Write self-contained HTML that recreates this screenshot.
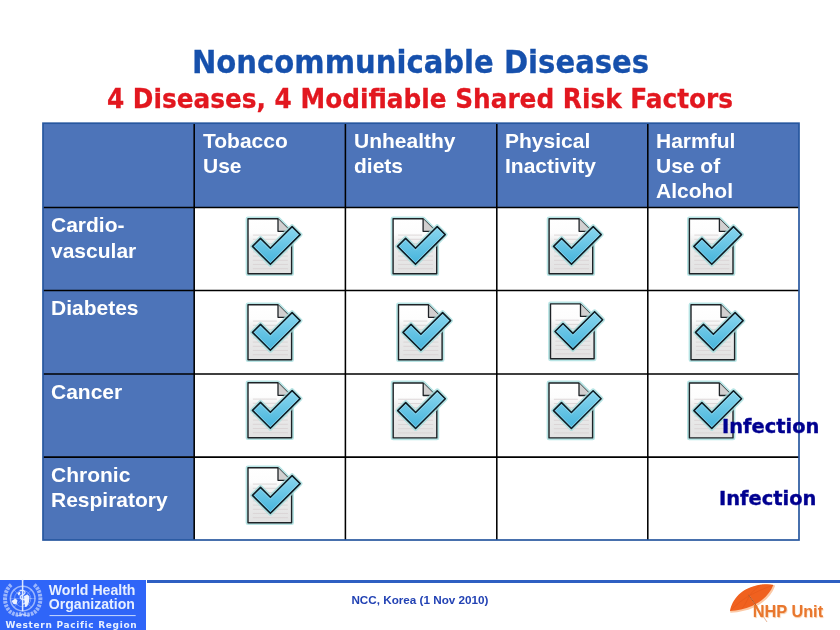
<!DOCTYPE html>
<html><head><meta charset="utf-8"><title>Noncommunicable Diseases</title>
<style>
html,body{margin:0;padding:0;background:#fff;}
body{width:840px;height:630px;position:relative;overflow:hidden;font-family:"Liberation Sans",sans-serif;}
.abs{position:absolute;white-space:nowrap;transform-origin:0 0;}
.t1{left:191.7px;top:42px;font:bold 32.5px/40px "DejaVu Sans",sans-serif;color:#1650ac;-webkit-text-stroke:.3px #1650ac;transform:scaleX(.8955);}
.t2{left:106.6px;top:82px;font:bold 27.3px/34px "DejaVu Sans",sans-serif;color:#e2171f;-webkit-text-stroke:.3px #e2171f;transform:scaleX(.908);}
.hd{color:#fff;font:bold 21px/25.2px "Liberation Sans",sans-serif;}
.ic{position:absolute;width:64px;height:66px;overflow:visible;}
.inf{font:bold 20px/24px "DejaVu Sans",sans-serif;color:#000090;-webkit-text-stroke:.4px #000090;transform:scaleX(.9717);}
svg{position:absolute;left:0;top:0;}
</style></head><body>
<div class="abs t1" id="t1">Noncommunicable Diseases</div>
<div class="abs t2" id="t2">4 Diseases, 4 Modifiable Shared Risk Factors</div>
<svg id="grid" width="840" height="630" viewBox="0 0 840 630">
<rect x="43.0" y="123.2" width="756.0" height="84.2" fill="#4d74b9"/>
<rect x="43.0" y="207.20000000000002" width="151.2" height="332.8" fill="#4d74b9"/>
<path d="M194.2 123.2V540.0M345.4 123.2V540.0M496.8 123.2V540.0M647.8 123.2V540.0M43.0 207.4H799.0M43.0 290.5H799.0M43.0 373.9H799.0M43.0 457.1H799.0" stroke="#000" stroke-width="1.55" fill="none"/>
<rect x="43.0" y="123.2" width="756.0" height="416.8" fill="none" stroke="#27579f" stroke-width="1.7"/>
</svg>
<div class="abs hd" style="left:203.0px;top:128.0px">Tobacco<br>Use</div>
<div class="abs hd" style="left:354.0px;top:128.0px">Unhealthy<br>diets</div>
<div class="abs hd" style="left:505.0px;top:128.0px">Physical<br>Inactivity</div>
<div class="abs hd" style="left:656.0px;top:128.0px">Harmful<br>Use of<br>Alcohol</div>
<div class="abs hd" style="left:51.0px;top:212.3px">Cardio-<br>vascular</div>
<div class="abs hd" style="left:51.0px;top:295.4px">Diabetes</div>
<div class="abs hd" style="left:51.0px;top:379.2px">Cancer</div>
<div class="abs hd" style="left:51.0px;top:462.2px">Chronic<br>Respiratory</div>
<svg width="0" height="0">
<defs>
<linearGradient id="pg" x1="0" y1="0" x2="0" y2="1"><stop offset="0" stop-color="#ffffff"/><stop offset=".26" stop-color="#fdfdfd"/><stop offset=".42" stop-color="#ededed"/><stop offset="1" stop-color="#e2e2e2"/></linearGradient>
<linearGradient id="cg" x1="0" y1="0" x2="0" y2="1"><stop offset="0" stop-color="#8ad6ee"/><stop offset="1" stop-color="#45b4dc"/></linearGradient>
<filter id="bl" x="-20%" y="-20%" width="140%" height="140%"><feGaussianBlur stdDeviation=".5"/></filter>
<g id="chk">
<path d="M.1 -.1H29.9L43.7 13.7V54.8H.1Z" fill="none" stroke="#a6dede" stroke-width="4.8" stroke-linejoin="round" opacity=".8" filter="url(#bl)"/>
<path d="M.1 -.1H29.9L43.7 13.7V54.8H.1Z" fill="url(#pg)" stroke="#1e2226" stroke-width="1.4" stroke-linejoin="round"/>
<path d="M30.100 -.1V12.4H42.600" fill="#d2d0d0" stroke="#1e2226" stroke-width="1.300" stroke-linejoin="round"/>
<path d="M5 16.2H29M5 20.400H40M5 24.6H40M5 28.800H40M5 33H40M5 37.200H40M5 41.400H40M5 45.600H40M5 49.800H40" stroke="#d8d0d2" stroke-width=".8" fill="none"/>
<path d="M4.6 27.5L12.6 19.5L22.5 29.4L44.2 7.7L52.2 15.7L22.5 45.4Z" fill="none" stroke="#a6dede" stroke-width="4.8" stroke-linejoin="round" opacity=".8" filter="url(#bl)"/>
<path d="M4.6 27.5L12.6 19.5L22.5 29.4L44.2 7.7L52.2 15.7L22.5 45.4Z" fill="url(#cg)" stroke="#0f1c24" stroke-width="1.6" stroke-linejoin="round"/>
<path d="M6.400 27.500L12.600 21.300L22.500 31.200L44.200 9.500L50.400 15.700L22.500 43.600Z" fill="none" stroke="#c8f0fa" stroke-width=".8" stroke-linejoin="round" opacity=".45"/>
</g>
</defs></svg>
<svg id="icons" width="840" height="630" viewBox="0 0 840 630">
<use href="#chk" x="247.9" y="218.9"/>
<use href="#chk" x="393.0" y="218.9"/>
<use href="#chk" x="549.0" y="218.9"/>
<use href="#chk" x="689.3" y="218.9"/>
<use href="#chk" x="247.9" y="304.9"/>
<use href="#chk" x="398.4" y="304.9"/>
<use href="#chk" x="550.4" y="304.0"/>
<use href="#chk" x="690.9" y="304.9"/>
<use href="#chk" x="247.9" y="382.9"/>
<use href="#chk" x="393.1" y="383.1"/>
<use href="#chk" x="548.9" y="383.1"/>
<use href="#chk" x="689.3" y="383.1"/>
<use href="#chk" x="247.9" y="467.9"/>
</svg>
<div class="abs inf" style="left:722.4px;top:414.0px" id="inf1">Infection</div>
<div class="abs inf" style="left:718.8px;top:486.2px" id="inf2">Infection</div>
<div style="position:absolute;left:147px;top:580px;width:693px;height:3px;background:#2f5fc2"></div>
<div style="position:absolute;left:0;top:580px;width:146px;height:50px;background:#2f65f8"></div>
<svg id="who" width="840" height="630" viewBox="0 0 840 630">
<g fill="none" stroke="#e4edff" stroke-linecap="round">
<path d="M11.200 584.800C3 591.500 3 606 11 612.300C14.500 614.800 19 615.200 22.700 613.600" stroke-width="4" stroke-dasharray="2.600 1" stroke-linecap="butt" opacity=".6"/>
<path d="M34.200 584.800C42.400 591.500 42.400 606 34.400 612.300C30.900 614.800 26.400 615.200 22.700 613.600" stroke-width="4" stroke-dasharray="2.600 1" stroke-linecap="butt" opacity=".6"/>
<path d="M17 616C19.500 615.600 21.200 615 22.700 614C24.200 615 25.900 615.600 28.400 616" stroke-width="1.100" opacity=".7"/>
<circle cx="22.700" cy="598.600" r="12.300" stroke-width="1.500" opacity=".6"/>
<circle cx="22.700" cy="598.600" r="8.200" stroke-width=".8" opacity=".45"/>
<path d="M10.400 598.600H35M22.700 586.300V610.900M14 590L31.400 607.200M31.400 590L14 607.200" stroke-width=".7" opacity=".4"/>
<path d="M22.600 580.200V610.500" stroke-width="1.500" opacity=".95"/>
<path d="M20.200 590.500C25.500 589.500 26.500 593.500 22.700 594.800C19 596 19.500 600 24.800 599.500C27.500 599.200 26.500 603.500 22.700 604.200" stroke-width="1.300" opacity=".9"/>
</g>
<path d="M11.500 601L15.500 598.500L17.500 600.500L16.500 604.500L13.500 604Z M24 596L27.500 594.500L29.500 596.500L29 602L27 606.500L25 607L24.500 602Z M17.500 593L20 591.500L20.500 594L18.500 595.500Z" fill="#f4f8ff" opacity=".95"/>
<path d="M49.500 615.600H135.700" stroke="#dbe8ff" stroke-width=".9"/>
</svg>
<div class="abs" style="left:48.8px;top:583.4px;font:bold 14.1px/14px 'Liberation Sans',sans-serif;color:#e6efff;" id="who1">World Health<br>Organization</div>
<div class="abs" style="left:5.5px;top:619.3px;font:bold 9px/12px 'DejaVu Sans',sans-serif;color:#e6efff;letter-spacing:.68px" id="who2">Western Pacific Region</div>
<div class="abs" style="left:351.4px;top:593.0px;font:bold 11.7px/13px 'Liberation Sans',sans-serif;color:#2242b4;" id="ncc">NCC, Korea (1 Nov 2010)</div>
<svg id="umb" width="60" height="50" viewBox="725 580 60 50" style="left:725px;top:580px">
<path d="M730 611C732 600 741 587 762 584.500C766 584 770 584 773.300 585C770 594 762 601.500 752 606C745 609 737 610.500 730 611Z" fill="#fbc9a6" stroke="#fbc9a6" stroke-width="1.600" stroke-linejoin="round" transform="translate(.9 .9)"/>
<path d="M730 611C732 600 741 587 762 584.500C766 584 770 584 773.300 585C770 594 762 601.500 752 606C745 609 737 610.500 730 611Z" fill="#f0611f"/>
<path d="M749.300 595.700C743 599 736 605 730.500 610.500M749.300 595.700C747 601 745 605 742 608.500M749.300 595.700C756 592 765 588 773 585.200M749.300 595.700C752 592 756 588 761 585" stroke="#e2561a" stroke-width=".7" fill="none" opacity=".8"/>
<path d="M749.300 595.700L767 622" stroke="#e6b090" stroke-width=".9" fill="none"/>
<path d="M748.500 594.800L757.500 607.500" stroke="#b8541f" stroke-width="1" fill="none"/>
</svg>
<div class="abs" style="left:752.8px;top:602.1px;font:bold 16.3px/18px 'Liberation Sans',sans-serif;color:#e8772e;text-shadow:.6px .6px 1px #f8c8a0" id="nhp">NHP Unit</div>
</body></html>
